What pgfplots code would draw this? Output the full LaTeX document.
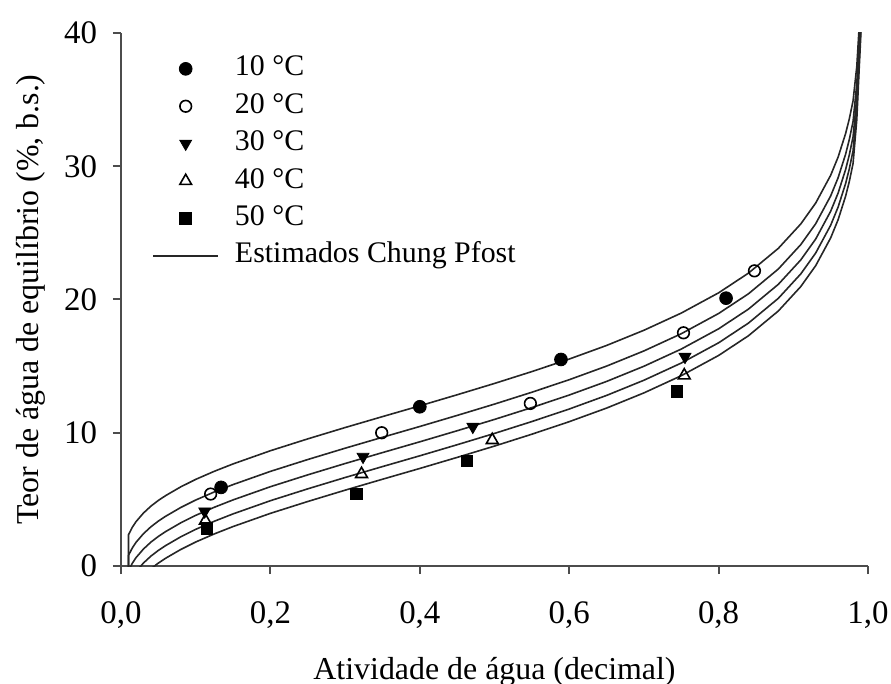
\documentclass[border=0pt]{standalone}
\usepackage{fontspec}
\setmainfont{Liberation Serif}
\usepackage{pgfplots}
\usepackage{pgfplotstable}
\pgfplotsset{compat=1.18}

% estimated Chung-Pfost curves
\pgfplotstableread{
aw     y10    y20    y30    y40    y50
0.01   -5     -5     -5     -5     -5
0.01   2.34   0.79  -0.36  -1.41  -2.36
0.015  2.89   1.34   0.19  -0.86  -1.81
0.02   3.32   1.77   0.62  -0.44  -1.39
0.03   3.97   2.42   1.27   0.22  -0.73
0.04   4.49   2.94   1.79   0.74  -0.21
0.05   4.92   3.37   2.22   1.17   0.22
0.06   5.29   3.74   2.59   1.54   0.59
0.08   5.94   4.39   3.24   2.19   1.24
0.10   6.50   4.95   3.80   2.75   1.80
0.125  7.11   5.56   4.41   3.36   2.41
0.15   7.66   6.11   4.96   3.91   2.96
0.2    8.65   7.10   5.95   4.90   3.95
0.25   9.54   7.99   6.84   5.79   4.84
0.3   10.39   8.84   7.69   6.64   5.69
0.35  11.21   9.66   8.51   7.46   6.51
0.4   12.02  10.47   9.32   8.27   7.32
0.45  12.85  11.30  10.15   9.10   8.15
0.5   13.70  12.15  11.00   9.95   9.00
0.55  14.59  13.04  11.89  10.84   9.89
0.6   15.53  13.98  12.83  11.78  10.83
0.65  16.55  15.00  13.85  12.80  11.85
0.7   17.69  16.14  14.99  13.94  12.99
0.75  18.98  17.43  16.28  15.23  14.28
0.8   20.50  18.95  17.80  16.75  15.80
0.84  21.98  20.43  19.28  18.23  17.28
0.88  23.84  22.29  21.14  20.09  19.14
0.91  25.67  24.12  22.97  21.92  20.97
0.93  27.24  25.69  24.54  23.49  22.54
0.95  29.32  27.77  26.62  25.57  24.62
0.96  30.69  29.14  27.99  26.94  25.99
0.97  32.45  30.90  29.75  28.70  27.75
0.975 33.56  32.01  30.86  29.81  28.86
0.98  34.91  33.36  32.21  31.16  30.21
0.985 37.50  36.20  35.20  34.30  33.50
0.988 40.30  39.30  38.50  37.80  37.10
0.99  42.50  41.50  40.70  40.00  39.40
0.993 46.00  45.00  44.30  43.60  43.00
}\curves

\tikzset{
  crv/.style={black!85,line width=0.8bp},
}
\pgfplotsset{
  markleg/.style={legend image code/.code={\draw[mark repeat=2,mark phase=2,##1]
    plot coordinates {(0bp,0bp) (16.25bp,0bp) (32.5bp,0bp)};}},
  lineleg/.style={legend image code/.code={\draw[##1] (0bp,0bp) -- (32.5bp,0bp);}},
}

\begin{document}
\begin{tikzpicture}
\begin{axis}[
  scale only axis,width=373.5bp,height=266.5bp,
  xmin=0,xmax=1,ymin=0,ymax=40,
  axis lines*=left,
  axis line style={black!70,line width=1bp},
  tick align=outside,
  major tick length=4bp,
  tick style={black!70,line width=1bp},
  xtick={0,0.2,0.4,0.6,0.8,1},
  ytick={0,10,20,30,40},
  minor tick num=0,
  /pgf/number format/assume math mode=true,
  xticklabel style={/pgf/number format/.cd,fixed,fixed zerofill,precision=1,use comma,
    /tikz/.cd,yshift=-10.5bp},
  yticklabel style={xshift=-4.5bp},
  tick label style={font=\fontsize{16.5}{19}\selectfont},
  label style={font=\fontsize{16}{19}\selectfont},
  xlabel={Atividade de água (decimal)},
  ylabel={Teor de água de equilíbrio (\%, b.s.)},
  x label style={at={(axis description cs:0.5,-0.212)},anchor=base},
  y label style={at={(axis description cs:-0.111,0.5)},anchor=base},
  clip mode=individual,
  legend cell align=left,
  legend style={at={(axis cs:0.0415,38.39)},anchor=north west,draw=none,fill=none,
    inner sep=0pt,row sep=4.7bp,font=\fontsize{15}{18}\selectfont,
    nodes={inner sep=0pt,text height=10.5bp,text depth=3.5bp},
    /tikz/every odd column/.append style={column sep=8bp}},
  markleg,
]
\addplot[crv,forget plot] table[x=aw,y=y10] {\curves};
\addplot[crv,forget plot] table[x=aw,y=y20] {\curves};
\addplot[crv,forget plot] table[x=aw,y=y30] {\curves};
\addplot[crv,forget plot] table[x=aw,y=y40] {\curves};
\addplot[crv,forget plot] table[x=aw,y=y50] {\curves};

\addplot[only marks,mark=*,mark size=3.2bp,black] coordinates {
 (0.134,5.9) (0.400,11.95) (0.589,15.5) (0.810,20.1)};
\addlegendentry{10 °C}
\addplot[only marks,mark=o,mark size=2.9bp,black,mark options={line width=0.8bp,fill=white}] coordinates {
 (0.120,5.4) (0.349,10.0) (0.548,12.2) (0.753,17.5) (0.848,22.15)};
\addlegendentry{20 °C}
\addplot[only marks,mark=triangle*,mark size=3.4bp,black,mark options={rotate=180}] coordinates {
 (0.112,4.1) (0.324,8.2) (0.471,10.45) (0.755,15.7)};
\addlegendentry{30 °C}
\addplot[only marks,mark=triangle,mark size=3.4bp,black,mark options={line width=0.8bp,fill=white}] coordinates {
 (0.113,3.4) (0.322,6.9) (0.497,9.45) (0.754,14.3)};
\addlegendentry{40 °C}
\addplot[only marks,mark=square*,mark size=2.9bp,black] coordinates {
 (0.115,2.8) (0.315,5.4) (0.463,7.9) (0.744,13.1)};
\addlegendentry{50 °C}
\addlegendimage{crv,lineleg}
\addlegendentry{Estimados Chung Pfost}
\end{axis}
\pgfresetboundingbox
\useasboundingbox (-60.5bp,-59bp) rectangle (385bp,283bp);
\end{tikzpicture}
\end{document}
